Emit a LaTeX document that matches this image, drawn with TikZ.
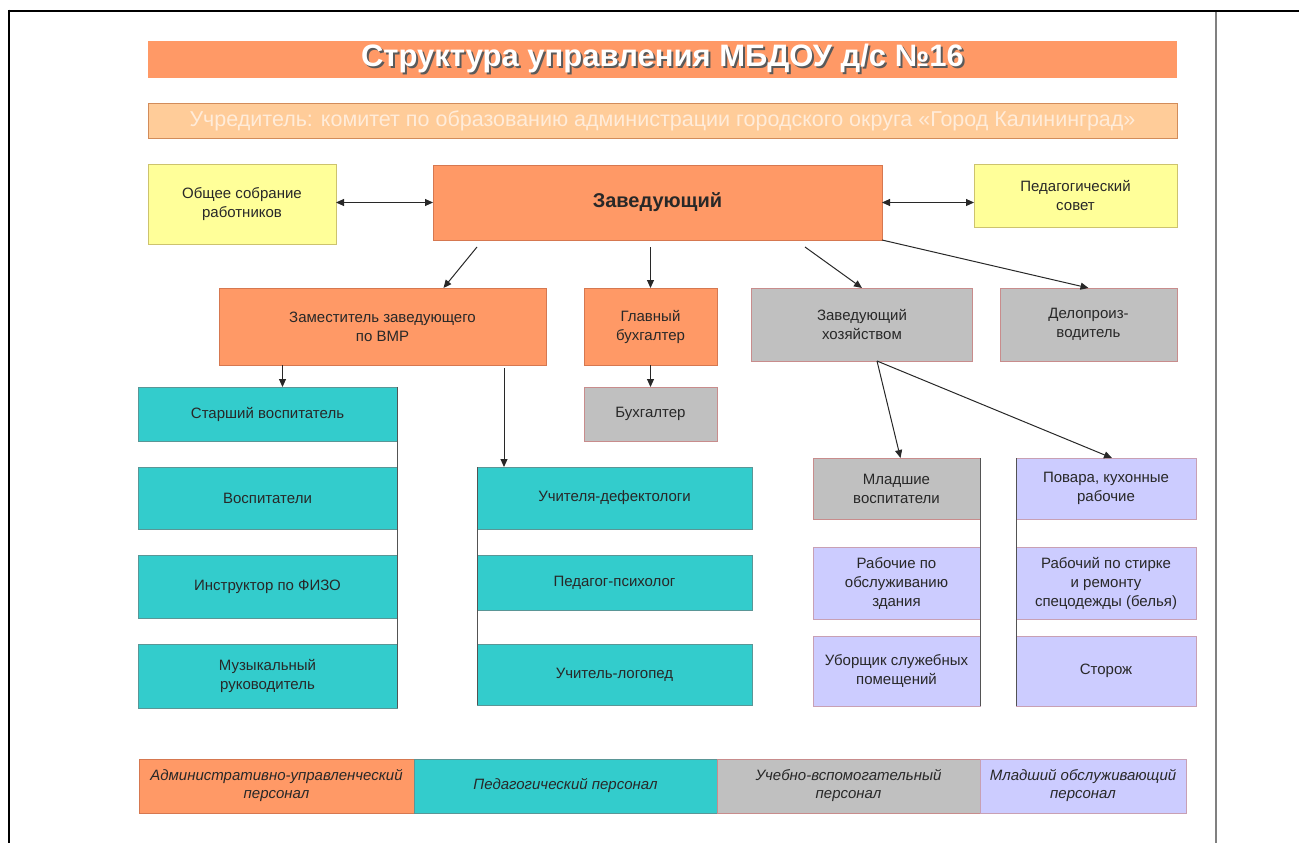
\documentclass[tikz,border=0pt]{standalone}
\usepackage{fontspec}
\setmainfont{Liberation Sans}
\usepackage{xcolor}
\usetikzlibrary{positioning,arrows.meta}

\definecolor{admfill}{RGB}{255,153,102}
\definecolor{admline}{RGB}{214,120,80}
\definecolor{pedfill}{RGB}{51,204,204}
\definecolor{pedline}{RGB}{90,150,150}
\definecolor{uvpfill}{RGB}{192,192,192}
\definecolor{uvpline}{RGB}{200,140,140}
\definecolor{mopfill}{RGB}{204,204,255}
\definecolor{mopline}{RGB}{200,160,180}
\definecolor{yellowfill}{RGB}{255,255,153}
\definecolor{yellowline}{RGB}{205,195,110}
\definecolor{peachfill}{RGB}{255,204,153}
\definecolor{peachline}{RGB}{210,140,90}
\definecolor{peachtext}{RGB}{255,236,218}
\definecolor{textdark}{RGB}{40,40,40}
\definecolor{arrowdark}{RGB}{40,40,40}
\definecolor{framegray}{RGB}{128,128,128}
\definecolor{shadowgray}{RGB}{90,90,90}

\newcommand{\shadowtext}[1]{\makebox[0pt][l]{\kern2pt\raisebox{-2pt}{\textcolor{shadowgray}{#1}}}\textcolor{white}{#1}}

\begin{document}
\begin{tikzpicture}[x=1pt, y=-1pt,
    box/.style={draw, line width=0.7pt, inner sep=2pt, outer sep=0pt, align=center, text=textdark, font=\fontsize{15}{19}\selectfont},
    adm/.style={box, fill=admfill, draw=admline},
    ped/.style={box, fill=pedfill, draw=pedline},
    uvp/.style={box, fill=uvpfill, draw=uvpline},
    mop/.style={box, fill=mopfill, draw=mopline},
    assembly/.style={box, fill=yellowfill, draw=yellowline},
    legendbox/.style={minimum height=54pt, font=\fontsize{15}{18}\selectfont\itshape},
    link/.style={-{Triangle[length=8pt,width=7pt]}, line width=1pt, draw=arrowdark},
    twoway/.style={{Triangle[length=8pt,width=7pt]}-{Triangle[length=8pt,width=7pt]}, line width=1pt, draw=arrowdark},
    rail/.style={line width=0.9pt, draw=arrowdark!80}]

    \useasboundingbox (0,0) rectangle (1299,843);

    \draw[line width=2.5pt] (8,11) -- (1299,11);
    \draw[line width=2.5pt] (9,9.75) -- (9,843);
    \draw[line width=2pt, draw=framegray] (1216,12) -- (1216,843);

    \node[adm, draw=none, minimum width=1029pt, minimum height=37pt, font=\fontsize{31}{33}\selectfont\bfseries] (title) at (662.5,59.5) {\shadowtext{Структура управления МБДОУ д/с №16}};
    \node[box, fill=peachfill, draw=peachline, minimum width=1029pt, minimum height=35pt, text=peachtext, font=\fontsize{21.5}{23}\selectfont] (founder) at (662.5,120.5) {Учредитель: комитет по образованию администрации городского округа «Город Калининград»};

    \node[assembly, minimum width=188pt, minimum height=80pt] (meeting) at (242,204) {Общее собрание\\работников};
    \node[adm, minimum width=449pt, minimum height=75pt, font=\fontsize{20}{24}\selectfont\bfseries] (head) at (657.5,202.5) {Заведующий};
    \node[assembly, minimum width=203pt, minimum height=63pt] (council) at (1075.5,195.5) {Педагогический\\совет};

    \node[adm, minimum width=327pt, minimum height=77pt] (deputy) at (382.5,326.5) {Заместитель заведующего\\по ВМР};
    \node[adm, minimum width=133pt, minimum height=77pt] (chief) at (650.5,326.5) {Главный\\бухгалтер};
    \node[uvp, minimum width=221pt, minimum height=73pt] (steward) at (862,324.5) {Заведующий\\хозяйством};
    \node[uvp, minimum width=177pt, minimum height=73pt] (clerk) at (1088.5,324.5) {Делопроиз-\\водитель};
    \node[uvp, minimum width=133pt, minimum height=54pt] (accountant) at (650.5,414) {Бухгалтер};

    \node[ped, minimum width=259pt, minimum height=54pt] (senior) at (267.5,414) {Старший воспитатель};
    \node[ped, minimum width=259pt, minimum height=62pt, below=26pt of senior] (educators) {Воспитатели};
    \node[ped, minimum width=259pt, minimum height=63pt, below=26pt of educators] (physed) {Инструктор по ФИЗО};
    \node[ped, minimum width=259pt, minimum height=64pt, below=26pt of physed] (music) {Музыкальный\\руководитель};

    \node[ped, minimum width=275pt, minimum height=62pt] (defect) at (614.5,498) {Учителя-дефектологи};
    \node[ped, minimum width=275pt, minimum height=55pt, below=26pt of defect] (psych) {Педагог-психолог};
    \node[ped, minimum width=275pt, minimum height=61pt, below=34pt of psych] (logoped) {Учитель-логопед};

    \node[uvp, minimum width=167pt, minimum height=61pt] (junior) at (896.5,488.5) {Младшие\\воспитатели};
    \node[mop, minimum width=167pt, minimum height=72pt, below=28pt of junior] (workers) {Рабочие по\\обслуживанию\\здания};
    \node[mop, minimum width=167pt, minimum height=70pt, below=17pt of workers] (cleaner) {Уборщик служебных\\помещений};

    \node[mop, minimum width=180pt, minimum height=61pt] (cooks) at (1106,488.5) {Повара, кухонные\\рабочие};
    \node[mop, minimum width=180pt, minimum height=72pt, below=28pt of cooks] (laundry) {Рабочий по стирке\\и ремонту\\спецодежды (белья)};
    \node[mop, minimum width=180pt, minimum height=70pt, below=17pt of laundry] (guard) {Сторож};

    \draw[twoway] (meeting.east |- head.west) -- (head.west);
    \draw[twoway] (head.east) -- (head.east -| council.west);

    \draw[link] ([shift={(44pt,-7pt)}]head.south west) -- ([xshift=61pt]deputy.north);
    \draw[link, shorten <=7pt] (head.south -| chief.north) -- (chief.north);
    \draw[link] ([shift={(-77pt,-7pt)}]head.south east) -- (steward.north);
    \draw[link] (head.south east) -- (clerk.north);

    \coordinate (seniorin) at ([xshift=15pt]senior.north);
    \coordinate (defectin) at ([xshift=27pt]defect.north west);
    \draw[link] (seniorin |- deputy.south) -- (seniorin);
    \draw[link, shorten <=3pt] (defectin |- deputy.south) -- (defectin);
    \draw[link] (chief.south) -- (accountant.north);

    \coordinate (hub) at ([xshift=15pt]steward.south);
    \draw[link] (hub) -- ([xshift=4pt]junior.north);
    \draw[link] (hub) -- ([xshift=6pt]cooks.north);

    \draw[rail] (senior.north east) -- (music.south east);
    \draw[rail] (defect.north west) -- (logoped.south west);
    \draw[rail] (junior.north east) -- (cleaner.south east);
    \draw[rail] (cooks.north west) -- (guard.south west);

    \node[adm, legendbox, minimum width=275pt] (legadm) at (276.5,786) {Административно-управленческий\\персонал};
    \node[ped, legendbox, minimum width=303pt, right=0pt of legadm] (legped) {Педагогический персонал};
    \node[uvp, legendbox, minimum width=263pt, right=0pt of legped] (leguvp) {Учебно-вспомогательный\\персонал};
    \node[mop, legendbox, minimum width=206pt, right=0pt of leguvp] (legmop) {Младший обслуживающий\\персонал};

\end{tikzpicture}
\end{document}
